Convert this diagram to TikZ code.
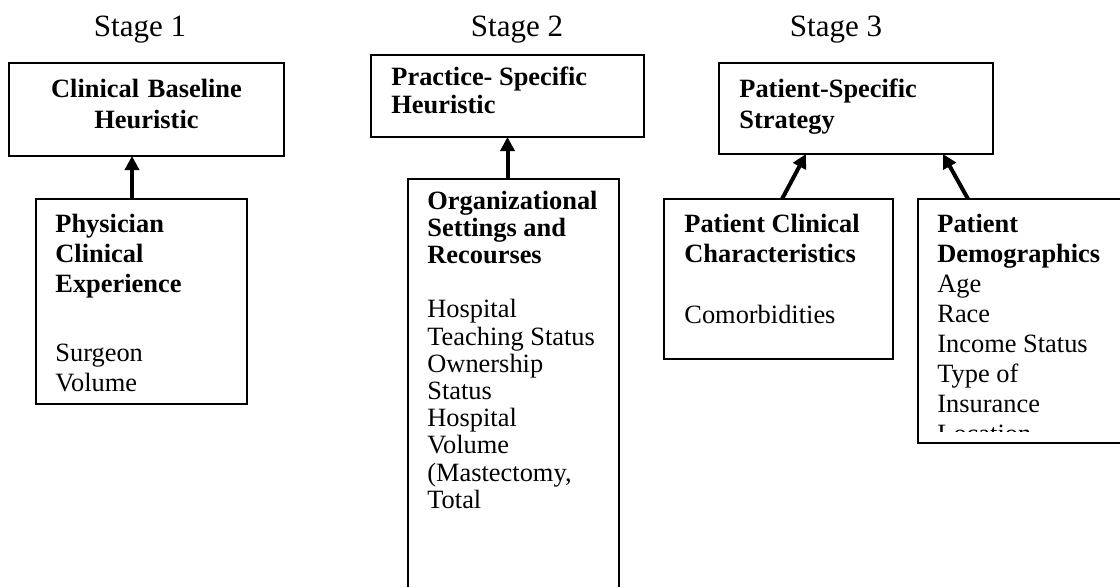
\documentclass[tikz,border=0pt]{standalone}
\usepackage{fontspec}
\setmainfont{Liberation Serif}
\usetikzlibrary{arrows.meta,calc,fit}

\begin{document}
\begin{tikzpicture}[x=0.5pt,y=-0.5pt,
    box/.style={draw,line width=0.9pt,inner sep=0pt,outer sep=0pt},
    stage/.style={font=\fontsize{15.5}{18}\selectfont,inner sep=0pt,anchor=base},
    txt/.style={font=\fontsize{13.2}{#1}\selectfont,text width=110pt,align=flush left,inner sep=0pt,anchor=base west},
    link/.style={line width=2pt,-{Triangle[width=7pt,length=7pt]}}]
  \clip (0,0) rectangle (1120,586);
  % stage headings
  \node[stage] (s1) at (140,36) {Stage 1};
  \node[stage] (s2) at (517,36) {Stage 2};
  \node[stage] (s3) at (836,36) {Stage 3};
  % boxes
  \node[box,fit={(9,63) (284,156)}] (b1) {};
  \node[box,fit={(36,199) (247,404)}] (b1b) {};
  \node[box,fit={(371,55) (644,137)}] (b2) {};
  \node[box,fit={(408,179) (619,620)}] (b2b) {};
  \node[box,fit={(719,63) (993,154)}] (b3) {};
  \node[box,fit={(664,199) (893,359)}] (b3a) {};
  \node[box,fit={(918,199) (1150,443)}] (b3b) {};
  % box texts
  \node[txt=15.5pt,align=center,anchor=base] (t1) at (146.5,97) {\bfseries Clinical Baseline\\Heuristic};
  \node[txt=15pt] (t1b) at (55,232) {\bfseries Physician\\Clinical\\Experience\\[19.5pt]\mdseries Surgeon\\Volume};
  \node[txt=14pt] (t2) at (391,85) {\bfseries Practice- Specific\\Heuristic};
  \node[txt=13.6pt] (t2b) at (427,209) {\bfseries Organizational\\Settings and\\Recourses\\[13.6pt]\mdseries Hospital\\Teaching Status\\Ownership\\Status\\Hospital\\Volume\\(Mastectomy,\\Total};
  \node[txt=15.5pt] (t3) at (739,97) {\bfseries Patient-Specific\\Strategy};
  \node[txt=15pt] (t3a) at (684,232) {\bfseries Patient Clinical\\Characteristics\\[15.5pt]\mdseries Comorbidities};
  \begin{scope}
    \clip (b3b.north west) rectangle ($(b3b.south east)+(0,-12)$);
    \node[txt=15pt] (t3b) at (937,232) {\bfseries Patient\\Demographics\\\mdseries Age\\Race\\Income Status\\Type of\\Insurance\\Location};
  \end{scope}
  % arrows
  \draw[link] ($(b1b.north west)+(96,0)$) coordinate (p1) -- (p1 |- b1.south);
  \draw[link] (b2.south |- b2b.north) -- (b2.south);
  \draw[link] ($(b3a.north west)+(118,0)$) -- ($(b3.south west)+(87,0)$);
  \draw[link] ($(b3b.north west)+(50,0)$) -- ($(b3.south west)+(224,0)$);
\end{tikzpicture}
\end{document}
